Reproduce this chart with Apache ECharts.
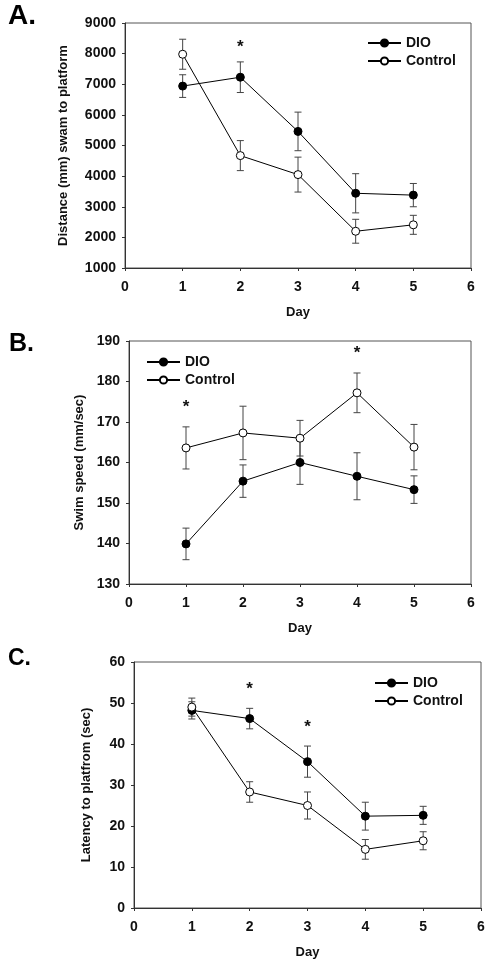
<!DOCTYPE html>
<html>
<head>
<meta charset="utf-8">
<script src="https://cdn.jsdelivr.net/npm/echarts@6/dist/echarts.min.js"></script>
<style>html,body{margin:0;padding:0;background:#fff}#c{width:493px;height:968px}</style>
</head>
<body>
<div id="c"></div>
<script>
const days = [1, 2, 3, 4, 5];
const seriesNames = ['DIO', 'Control'];
const panelLetters = ['A.', 'B.', 'C.'];
const yNames = ['Distance (mm) swam to platform', 'Swim speed (mm/sec)', 'Latency to platfrom (sec)'];
const xName = 'Day';

const distDIO = [6940, 7230, 5460, 3440, 3380];
const distDIOse = [370, 500, 630, 640, 380];
const distCtl = [7980, 4670, 4050, 2200, 2410];
const distCtlse = [490, 490, 570, 390, 310];
const distSig = [2];

const speedDIO = [139.9, 155.4, 160.0, 156.6, 153.3];
const speedDIOse = [3.9, 4.0, 5.4, 5.8, 3.4];
const speedCtl = [163.6, 167.3, 166.0, 177.2, 163.8];
const speedCtlse = [5.2, 6.6, 4.4, 4.9, 5.6];
const speedSig = [1, 4];

const latDIO = [48.2, 46.2, 35.7, 22.4, 22.6];
const latDIOse = [2.1, 2.5, 3.8, 3.4, 2.2];
const latCtl = [49.0, 28.3, 25.0, 14.3, 16.4];
const latCtlse = [2.2, 2.5, 3.3, 2.4, 2.2];
const latSig = [2, 3];

const yRanges = [[1000, 9000, 1000], [130, 190, 10], [0, 60, 10]];

const FONT = "'Liberation Sans', Arial, sans-serif";
const panels = [
  {dio: distDIO, dioSe: distDIOse, ctl: distCtl, ctlSe: distCtlse, sig: distSig},
  {dio: speedDIO, dioSe: speedDIOse, ctl: speedCtl, ctlSe: speedCtlse, sig: speedSig},
  {dio: latDIO, dioSe: latDIOse, ctl: latCtl, ctlSe: latCtlse, sig: latSig}
];
const layout = [
  {grid: {left: 125, right: 22, top: 23, height: 245}, nameGap: 55, legend: {left: 362, top: 31}, star: 15, title: [8, 20, 28]},
  {grid: {left: 129, right: 22, top: 341, height: 243}, nameGap: 42, legend: {left: 141, top: 350}, star: 20, title: [9, 347, 25]},
  {grid: {left: 134, right: 12, top: 662, height: 246}, nameGap: 41, legend: {left: 369, top: 671}, star: 19, title: [8, 661, 23]}
];

function errRender(params, api) {
  const x = api.value(0), lo = api.value(1), hi = api.value(2);
  const p1 = api.coord([x, lo]), p2 = api.coord([x, hi]);
  const w = 3.5;
  const st = {stroke: '#444', lineWidth: 1};
  return {type: 'group', children: [
    {type: 'line', shape: {x1: p1[0], y1: p1[1], x2: p2[0], y2: p2[1]}, style: st},
    {type: 'line', shape: {x1: p1[0] - w, y1: p1[1], x2: p1[0] + w, y2: p1[1]}, style: st},
    {type: 'line', shape: {x1: p2[0] - w, y1: p2[1], x2: p2[0] + w, y2: p2[1]}, style: st}
  ]};
}

const grids = [], xAxes = [], yAxes = [], series = [], legends = [], graphics = [];
panels.forEach((p, i) => {
  const L = layout[i];
  grids.push(Object.assign({show: true, borderColor: '#555', borderWidth: 1, backgroundColor: 'transparent'}, L.grid));
  xAxes.push({
    type: 'value', gridIndex: i, min: 0, max: 6, interval: 1,
    name: xName, nameLocation: 'middle', nameGap: 38,
    nameTextStyle: {fontFamily: FONT, fontWeight: 'bold', fontSize: 13, color: '#111'},
    axisLine: {onZero: false, lineStyle: {color: '#333', width: 1}},
    axisTick: {show: true, length: 3, lineStyle: {color: '#333'}},
    axisLabel: {margin: 12, fontFamily: FONT, fontWeight: 'bold', fontSize: 14, color: '#111', formatter: v => String(v)},
    splitLine: {show: false}
  });
  yAxes.push({
    type: 'value', gridIndex: i, min: yRanges[i][0], max: yRanges[i][1], interval: yRanges[i][2],
    name: yNames[i], nameLocation: 'middle', nameGap: L.nameGap,
    nameTextStyle: {fontFamily: FONT, fontWeight: 'bold', fontSize: 13, color: '#111'},
    axisLine: {show: true, onZero: false, lineStyle: {color: '#333', width: 1}},
    axisTick: {show: true, length: 3, lineStyle: {color: '#333'}},
    axisLabel: {margin: 9, fontFamily: FONT, fontWeight: 'bold', fontSize: 14, color: '#111', formatter: v => String(v)},
    splitLine: {show: false}
  });
  const errData = [];
  days.forEach((d, k) => {
    errData.push([d, p.dio[k] - p.dioSe[k], p.dio[k] + p.dioSe[k]]);
    errData.push([d, p.ctl[k] - p.ctlSe[k], p.ctl[k] + p.ctlSe[k]]);
  });
  series.push({type: 'custom', xAxisIndex: i, yAxisIndex: i, renderItem: errRender, data: errData, encode: {x: 0, y: [1, 2]}, z: 1, silent: true});
  series.push({
    name: seriesNames[0], type: 'line', xAxisIndex: i, yAxisIndex: i,
    data: days.map((d, k) => [d, p.dio[k]]),
    symbol: 'circle', symbolSize: 8, showSymbol: true,
    lineStyle: {color: '#000', width: 1},
    itemStyle: {color: '#000', borderColor: '#000', borderWidth: 1},
    z: 3, animation: false
  });
  series.push({
    name: seriesNames[1], type: 'line', xAxisIndex: i, yAxisIndex: i,
    data: days.map((d, k) => [d, p.ctl[k]]),
    symbol: 'circle', symbolSize: 8, showSymbol: true,
    lineStyle: {color: '#000', width: 1},
    itemStyle: {color: '#fff', borderColor: '#000', borderWidth: 1},
    z: 4, animation: false
  });
  const sigData = p.sig.map(d => {
    const k = days.indexOf(d);
    return [d, Math.max(p.dio[k] + p.dioSe[k], p.ctl[k] + p.ctlSe[k])];
  });
  const off = L.star;
  series.push({
    type: 'custom', xAxisIndex: i, yAxisIndex: i, data: sigData, z: 5, silent: true,
    renderItem: (params, api) => {
      const pt = api.coord([api.value(0), api.value(1)]);
      return {type: 'text', x: pt[0], y: pt[1] - off,
        style: {text: '*', fontFamily: FONT, fontWeight: 'bold', fontSize: 17, fill: '#111', align: 'center', verticalAlign: 'middle'}};
    }
  });
  legends.push({
    data: seriesNames, orient: 'vertical', left: L.legend.left, top: L.legend.top,
    itemWidth: 33, itemHeight: 9, itemGap: 4, selectedMode: false,
    textStyle: {fontFamily: FONT, fontWeight: 'bold', fontSize: 14, color: '#111'}
  });
  graphics.push({type: 'text', left: L.title[0], top: L.title[1] - L.title[2] * 0.62,
    style: {text: panelLetters[i], fontFamily: FONT, fontWeight: 'bold', fontSize: L.title[2], fill: '#000'}});
});

const chart = echarts.init(document.getElementById('c'), null, {renderer: 'canvas'});
chart.setOption({
  animation: false,
  backgroundColor: '#fff',
  grid: grids, xAxis: xAxes, yAxis: yAxes, series: series, legend: legends, graphic: graphics
});
</script>
</body>
</html>
